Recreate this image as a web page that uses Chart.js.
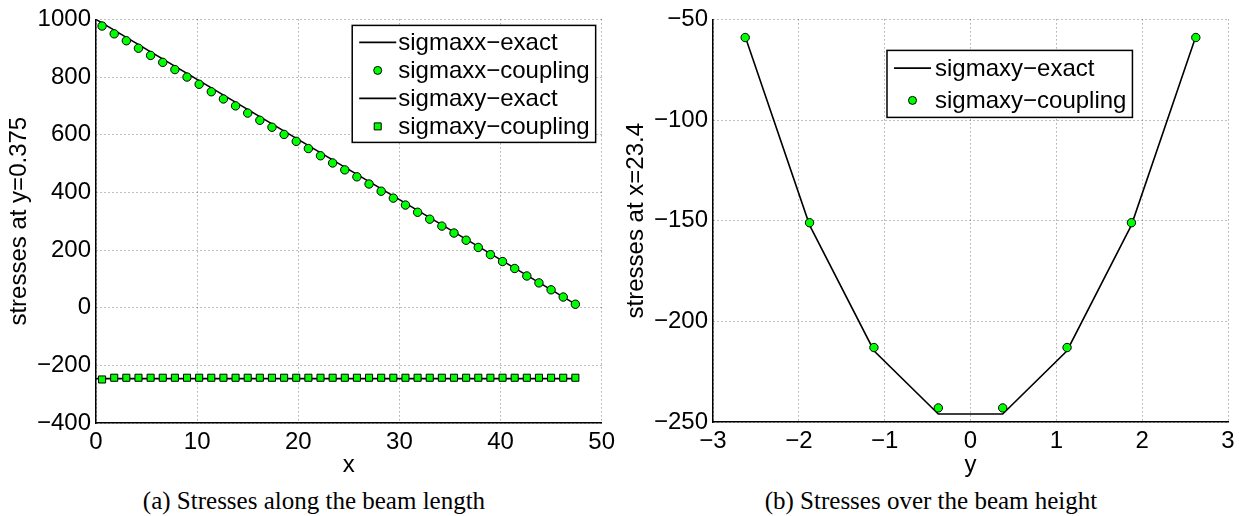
<!DOCTYPE html>
<html>
<head>
<meta charset="utf-8">
<script src="https://cdn.jsdelivr.net/npm/chart.js@4.4.0/dist/chart.umd.min.js"></script>
<style>
    body { margin: 0; background: #fff; }
    #wrap { position: relative; width: 1251px; height: 516px; overflow: hidden; }
    .panel { position: absolute; top: 0; height: 480px; }
    .caption { position: absolute; top: 486px; width: 400px; font: 25px "Liberation Serif", "Times New Roman", serif; line-height: 30px; text-align: center; white-space: nowrap; color: #000; }
</style>
</head>
<body>
<div id="wrap">
    <div class="panel" style="left:0;width:620px"><canvas id="beam-length"></canvas></div>
    <div class="panel" style="left:620px;width:631px"><canvas id="beam-height"></canvas></div>
    <div class="caption" style="left:114px">(a) Stresses along the beam length</div>
    <div class="caption" style="left:731px">(b) Stresses over the beam height</div>
</div>
<script>
// (a) stresses at y=0.375 along the beam
const xCentres = [0.6, 1.8, 3.0, 4.2, 5.4, 6.6, 7.8, 9.0, 10.2, 11.4, 12.6, 13.8, 15.0, 16.2, 17.4, 18.6, 19.8, 21.0, 22.2, 23.4,
    24.6, 25.8, 27.0, 28.2, 29.4, 30.6, 31.8, 33.0, 34.2, 35.4, 36.6, 37.8, 39.0, 40.2, 41.4, 42.6, 43.8, 45.0, 46.2, 47.4];
const sigmaxxCoupling = [977, 950, 926, 900, 875, 851, 826, 800, 775, 749, 724, 700, 675, 650, 626, 601, 577, 552, 527, 502,
    478, 454, 429, 404, 380, 356, 331, 307, 283, 259, 234, 209, 184, 160, 136, 110, 86, 62, 37, 12];
const sigmaxyCouplingA = [-249, -243, -243, -243, -243, -243, -243, -243, -243, -243, -243, -243, -243, -243, -243, -243, -243, -243, -243, -243,
    -243, -243, -243, -243, -243, -243, -243, -243, -243, -243, -243, -243, -243, -243, -243, -243, -243, -243, -243, -243];
const exactX = [0, 47.4];
const sigmaxxExact = [1000, 12.5];
const sigmaxyExactA = [-246, -246];
const xTicksA = [0, 10, 20, 30, 40, 50];
const yTicksA = [-400, -200, 0, 200, 400, 600, 800, 1000];

// (b) stresses at x=23.4 over the height
const yCentres = [-2.625, -1.875, -1.125, -0.375, 0.375, 1.125, 1.875, 2.625];
const sigmaxyExactB = [-58.5, -152.2, -214.6, -246, -246, -214.6, -152.2, -58.5];
const sigmaxyCouplingB = [-59, -151, -213, -243, -243, -213, -151, -59];
const xTicksB = [-3, -2, -1, 0, 1, 2, 3];
const yTicksB = [-250, -200, -150, -100, -50];

const sansFont = '"Liberation Sans", Arial, Helvetica, sans-serif';
const fontSize = 24;
const green = '#00ff00';

function points(xs, ys) {
    return xs.map((x, i) => ({x: x, y: ys[i]}));
}

function exactSet(label, xs, ys) {
    return {label: label, data: points(xs, ys), showLine: true, borderColor: '#000', borderWidth: 1.6, pointRadius: 0, fill: false, order: 1};
}

function couplingSet(label, xs, ys, style) {
    return {
        label: label, data: points(xs, ys), showLine: false, pointStyle: style,
        pointRadius: style === 'rect' ? 5 : 4.2, pointBackgroundColor: green, pointBorderColor: '#000', pointBorderWidth: 1, order: 0
    };
}

function axis(pos, min, max, ticks, title, size, titlePad) {
    return {
        type: 'linear', position: pos, min: min, max: max,
        afterBuildTicks: s => { s.ticks = ticks.map(v => ({value: v})); },
        afterFit: s => { if (pos === 'left') s.width = size; else s.height = size; },
        ticks: {
            color: '#000', font: {family: sansFont, size: fontSize}, padding: 5, autoSkip: false, maxRotation: 0,
            callback: v => String(v).replace('-', '\u2212')
        },
        grid: {color: 'rgba(0,0,0,0.5)', lineWidth: 1, drawTicks: false},
        border: {display: true, color: '#000', width: 1.5, dash: [1, 3]},
        title: {display: true, text: title, color: '#000', font: {family: sansFont, size: fontSize}, padding: titlePad}
    };
}

// legend box drawn inside the plot, like the MATLAB one
const insideLegend = {
    id: 'insideLegend',
    afterDatasetsDraw(chart, args, opts) {
        const {ctx, chartArea} = chart;
        const items = chart.data.datasets;
        ctx.save();
        ctx.font = fontSize + 'px ' + sansFont;
        const textW = Math.max(...items.map(d => ctx.measureText(d.label).width));
        const w = opts.textOffset + textW + opts.padRight;
        const h = opts.padTop + opts.rowHeight * (items.length - 1) + opts.padBottom;
        const left = opts.right != null ? chartArea.right - opts.right - w : chartArea.left + opts.left;
        const top = chartArea.top + opts.top;
        ctx.fillStyle = '#fff';
        ctx.fillRect(left, top, w, h);
        ctx.strokeStyle = '#000';
        ctx.lineWidth = 1.5;
        ctx.strokeRect(left, top, w, h);
        items.forEach((d, i) => {
            const y = top + opts.padTop + i * opts.rowHeight;
            if (d.showLine) {
                ctx.strokeStyle = '#000';
                ctx.lineWidth = 1.6;
                ctx.beginPath();
                ctx.moveTo(left + 7, y);
                ctx.lineTo(left + 44, y);
                ctx.stroke();
            } else {
                ctx.fillStyle = green;
                ctx.strokeStyle = '#000';
                ctx.lineWidth = 1;
                ctx.beginPath();
                if (d.pointStyle === 'rect') ctx.rect(left + 22, y - 3.5, 7, 7);
                else ctx.arc(left + 25.5, y, 4, 0, Math.PI * 2);
                ctx.fill();
                ctx.stroke();
            }
            ctx.fillStyle = '#000';
            ctx.textBaseline = 'middle';
            ctx.fillText(d.label, left + opts.textOffset, y + 1);
        });
        ctx.restore();
    }
};

function makeChart(id, datasets, scales, padding, legendOpts) {
    return new Chart(document.getElementById(id), {
        type: 'scatter',
        data: {datasets: datasets},
        options: {
            responsive: true,
            maintainAspectRatio: false,
            animation: false,
            events: [],
            layout: {padding: padding},
            scales: scales,
            plugins: {legend: {display: false}, tooltip: {enabled: false}, insideLegend: legendOpts}
        },
        plugins: [insideLegend]
    });
}

makeChart('beam-length', [
    exactSet('sigmaxx\u2212exact', exactX, sigmaxxExact),
    couplingSet('sigmaxx\u2212coupling', xCentres, sigmaxxCoupling, 'circle'),
    exactSet('sigmaxy\u2212exact', exactX, sigmaxyExactA),
    couplingSet('sigmaxy\u2212coupling', xCentres, sigmaxyCouplingA, 'rect')
], {
    x: axis('bottom', 0, 50, xTicksA, 'x', 57, {top: 0, bottom: 0}),
    y: axis('left', -400, 1000, yTicksA, 'stresses at y=0.375', 96, {top: 5, bottom: 0})
}, {top: 19, right: 15, left: 0, bottom: 0},
    {right: 6, top: 6, textOffset: 46, padRight: 6, padTop: 17, rowHeight: 28, padBottom: 16});

makeChart('beam-height', [
    exactSet('sigmaxy\u2212exact', yCentres, sigmaxyExactB),
    couplingSet('sigmaxy\u2212coupling', yCentres, sigmaxyCouplingB, 'circle')
], {
    x: axis('bottom', -3, 3, xTicksB, 'y', 58, {top: 0, bottom: 0}),
    y: axis('left', -250, -50, yTicksB, 'stresses at x=23.4', 93, {top: 2, bottom: 0})
}, {top: 14, right: 23, left: 0, bottom: 0},
    {left: 174, top: 31, textOffset: 48, padRight: 6, padTop: 17.7, rowHeight: 32.3, padBottom: 17});
</script>
</body>
</html>
